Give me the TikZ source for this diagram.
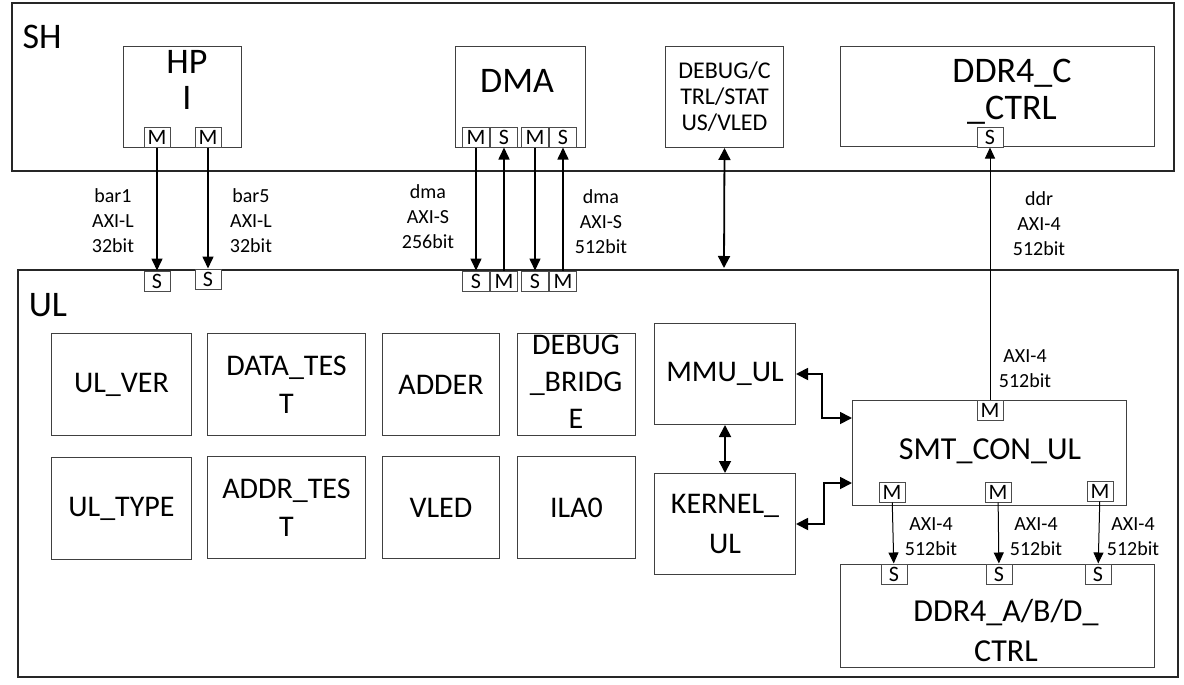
\documentclass[tikz,border=0pt]{standalone}
\usepackage{fontspec}
\setmainfont{Carlito}
\usetikzlibrary{arrows.meta, positioning}

\tikzset{
  frame/.style={draw=black!85, line width=1.6pt},
  block/.style={draw=black!75, line width=1pt, anchor=north west, inner sep=0pt, align=center},
  bigtxt/.style={align=center, font=\fontsize{36}{36}\selectfont},
  midtxt/.style={align=center, font=\fontsize{30}{38}\selectfont},
  smalltxt/.style={align=center, font=\fontsize{24}{26}\selectfont},
  port/.style={draw=black!70, fill=white, line width=1pt, minimum width=26pt, minimum height=20pt, inner sep=0pt, font=\fontsize{22}{22}\selectfont},
  lbl/.style={align=center, font=\fontsize{20}{25}\selectfont},
  bus/.style={line width=1.6pt, -{Triangle[length=12pt,width=11pt]}},
  dbus/.style={line width=1.8pt, {Triangle[length=12pt,width=12pt]}-{Triangle[length=12pt,width=12pt]}},
  ddrbus/.style={line width=1pt, -{Triangle[length=11pt,width=10pt]}},
}

\begin{document}
\begin{tikzpicture}[x=1pt, y=-1pt]
    \useasboundingbox (0,0) rectangle (1184,685);

    % SH
    \draw[frame] (12,3) rectangle (1174,171);
    \node[bigtxt] (shlbl) at (42,37) {SH};

    \node[block, minimum width=118pt, minimum height=101pt] (hpi) at (123,46) {};
    \node[bigtxt] (hpitxt) at (187,80) {HP\\I};
    \node[port] (hpiM1) at (157,137) {M};
    \node[port] (hpiM2) at (208,137) {M};

    \node[block, minimum width=130pt, minimum height=101pt] (dma) at (455,46) {};
    \node[bigtxt] (dmatxt) at (517,81) {DMA};
    \node[port, minimum width=27pt] (dmaM1) at (476,137) {M};
    \node[port, minimum width=27pt] (dmaS1) at (504,137) {S};
    \node[port, minimum width=27pt] (dmaM2) at (535,137) {M};
    \node[port, minimum width=27pt] (dmaS2) at (563,137) {S};

    \node[block, minimum width=118pt, minimum height=101pt, smalltxt] (dbg) at (665,46) {DEBUG/C\\TRL/STAT\\US/VLED};

    \node[block, minimum width=314pt, minimum height=100pt] (ddrc) at (840,46) {};
    \node[bigtxt, font=\fontsize{36}{37}\selectfont] (ddrctxt) at (1012,92) {DDR4\_C\\\_CTRL};
    \node[port] (ddrcS) at (990,137) {S};

    % UL
    \draw[frame] (18,270) rectangle (1178,677);
    \node[bigtxt] (ullbl) at (48,305) {UL};

    \node[port] (ulS1) at (157,281) {S};
    \node[port] (ulS2) at (208,279) {S};
    \node[port, minimum width=27pt] (ulS3) at (476,281) {S};
    \node[port, minimum width=27pt] (ulM3) at (504,281) {M};
    \node[port, minimum width=27pt] (ulS4) at (535,281) {S};
    \node[port, minimum width=27pt] (ulM4) at (563,281) {M};
    \coordinate (ulDbg) at (724,268);

    \node[block, midtxt, minimum width=140pt, minimum height=102pt] (ulver) at (51,333) {UL\_VER};
    \node[block, midtxt, minimum width=158pt, minimum height=102pt] (datatest) at (207,333) {DATA\_TES\\T};
    \node[block, midtxt, minimum width=117pt, minimum height=102pt] (adder) at (382,333) {ADDER};
    \node[block, midtxt, minimum width=118pt, minimum height=102pt] (dbgbridge) at (517,333) {};
    \node[midtxt, font=\fontsize{30}{37}\selectfont] (dbgbridgetxt) at (576,382) {DEBUG\\\_BRIDG\\E};
    \node[block, midtxt, minimum width=140pt, minimum height=102pt] (ultype) at (51,457) {UL\_TYPE};
    \node[block, midtxt, minimum width=158pt, minimum height=102pt] (addrtest) at (207,456) {ADDR\_TES\\T};
    \node[block, midtxt, minimum width=117pt, minimum height=102pt] (vled) at (382,456) {VLED};
    \node[block, midtxt, minimum width=118pt, minimum height=102pt] (ila) at (517,456) {ILA0};

    \node[block, midtxt, minimum width=141pt, minimum height=101pt] (mmu) at (654,323) {MMU\_UL};
    \node[block, midtxt, minimum width=141pt, minimum height=101pt, font=\fontsize{30}{40}\selectfont] (kernel) at (654,473) {KERNEL\_\\UL};

    \node[block, minimum width=274pt, minimum height=105pt] (smt) at (852,400) {};
    \node[midtxt, font=\fontsize{32}{38}\selectfont] (smttxt) at (990,451) {SMT\_CON\_UL};
    \node[port] (smtM0) at (990,410) {M};
    \node[port] (smtM1) at (892,492) {M};
    \node[port] (smtM2) at (998,492) {M};
    \node[port] (smtM3) at (1100,491) {M};

    \node[block, minimum width=314pt, minimum height=103pt] (ddrabd) at (840,564) {};
    \node[midtxt, font=\fontsize{32}{40}\selectfont] (ddrabdtxt) at (1006,630) {DDR4\_A/B/D\_\\CTRL};
    \node[port] (ddrS1) at (894,574) {S};
    \node[port] (ddrS2) at (999,574) {S};
    \node[port] (ddrS3) at (1098,574) {S};

    % SH <-> UL
    \draw[bus] (hpiM1) -- (ulS1);
    \draw[bus] (hpiM2) -- (ulS2);
    \draw[bus] (dmaM1) -- (ulS3);
    \draw[bus] (ulM3) -- (dmaS1);
    \draw[bus] (dmaM2) -- (ulS4);
    \draw[bus] (ulM4) -- (dmaS2);
    \draw[dbus] (dbg.south) -- (ulDbg);
    \draw[ddrbus] (smtM0) -- (ddrcS);

    \node[lbl] (lblbar1) at (113,221) {bar1\\AXI-L\\32bit};
    \node[lbl] (lblbar5) at (251,221) {bar5\\AXI-L\\32bit};
    \node[lbl] (lbldma1) at (428,217) {dma\\AXI-S\\256bit};
    \node[lbl] (lbldma2) at (601,222) {dma\\AXI-S\\512bit};
    \node[lbl] (lblddr) at (1039,224) {ddr\\AXI-4\\512bit};

    % UL inside
    \draw[dbus] (mmu.east) -- ++(26,0) |- ([yshift=-18pt]smt.north west);
    \draw[dbus] (kernel.east) -- ++(28,0) |- ([yshift=23pt]smt.south west);
    \draw[dbus] (mmu) -- (kernel);

    \draw[ddrbus] (smtM1) -- (ddrS1);
    \draw[ddrbus] (smtM2) -- (ddrS2);
    \draw[ddrbus] (smtM3) -- (ddrS3);

    \node[lbl] (lblsmt0) at (1025,369) {AXI-4\\512bit};
    \node[lbl] (lblsmt1) at (931,537) {AXI-4\\512bit};
    \node[lbl] (lblsmt2) at (1036,537) {AXI-4\\512bit};
    \node[lbl] (lblsmt3) at (1133,537) {AXI-4\\512bit};
\end{tikzpicture}
\end{document}
